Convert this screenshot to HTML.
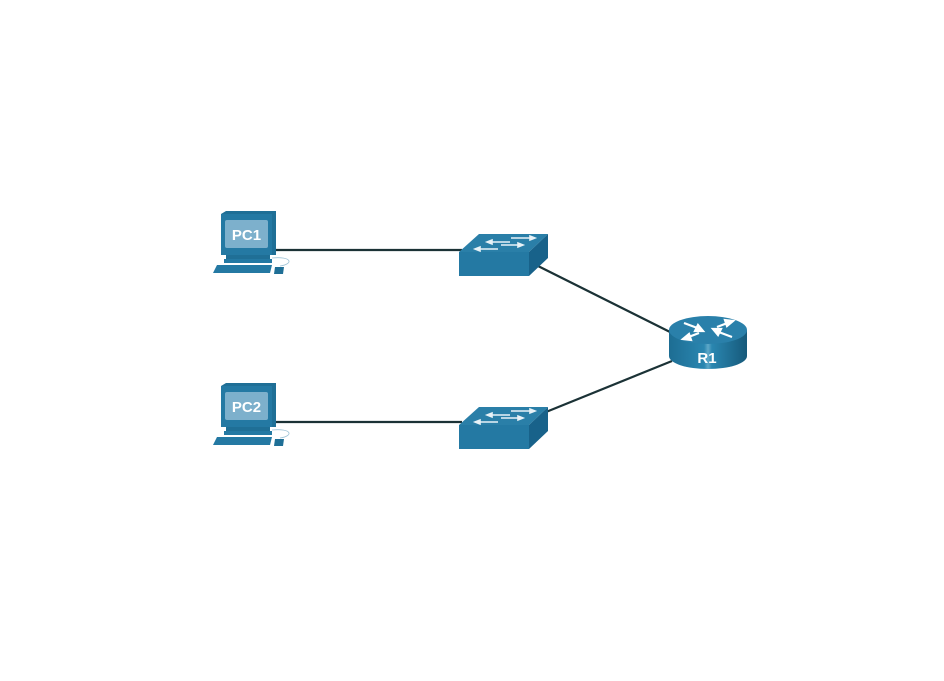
<!DOCTYPE html>
<html><head><meta charset="utf-8"><style>html,body{margin:0;padding:0;background:#fff}svg{display:block}</style></head>
<body>
<svg width="944" height="681" viewBox="0 0 944 681" xmlns="http://www.w3.org/2000/svg">
<defs>
<linearGradient id="rb" x1="0" x2="1" y1="0" y2="0">
<stop offset="0" stop-color="#1d6d93"/><stop offset="0.45" stop-color="#2a86b0"/><stop offset="0.5" stop-color="#5fa8c8"/><stop offset="0.55" stop-color="#2a86b0"/><stop offset="1" stop-color="#16597a"/>
</linearGradient>
<g id="pc">
<polygon points="221,214 226,211 276,211 276,255 221,255" fill="#1f6f96"/>
<rect x="221" y="214" width="51" height="41" fill="#2479a3"/>
<rect x="225" y="220" width="43" height="28" rx="2" fill="#7db0cc"/>
<text x="246.5" y="240" text-anchor="middle" font-family="Liberation Sans, sans-serif" font-weight="bold" font-size="15" fill="#fff">PCX</text>
<rect x="226" y="255" width="44" height="4" fill="#1f6f96"/>
<rect x="224" y="259" width="48" height="4" fill="#2479a3"/>
<polygon points="217,265 272,265 270,273 213,273" fill="#2479a3"/>
<path d="M272,258 C292,256 294,264 280,266" stroke="#9ec3d6" stroke-width="0.8" fill="none"/>
<polygon points="275,267 284,267 283,274 274,274" fill="#1f6f96"/>
</g>
<g id="sw">
<polygon points="459,252 479,234 548,234 529,252" fill="#2a7fa8"/>
<rect x="459" y="252" width="70" height="24" fill="#2479a3"/>
<polygon points="529,252 548,234 548,258 529,276" fill="#18628a"/>
<g stroke="#e8f2f7" stroke-width="1.6" fill="#e8f2f7">
<line x1="511" y1="238" x2="532" y2="238"/><polygon points="535,238 530,236 530,240"/>
<line x1="492" y1="242" x2="510" y2="242"/><polygon points="487,242 492,240 492,244"/>
<line x1="501" y1="245" x2="520" y2="245"/><polygon points="523,245 518,243 518,247"/>
<line x1="480" y1="249" x2="498" y2="249"/><polygon points="475,249 480,247 480,251"/>
</g>
</g>
</defs>
<g stroke="#1b3236" stroke-width="2.2">
<line x1="276" y1="250" x2="462" y2="250"/>
<line x1="276" y1="422" x2="462" y2="422"/>
<line x1="538" y1="266" x2="672" y2="333"/>
<line x1="546" y1="412" x2="672" y2="361"/>
</g>
<g>
<polygon points="221,214 226,211 276,211 276,255 221,255" fill="#1f6f96"/>
<rect x="221" y="214" width="51" height="41" fill="#2479a3"/>
<rect x="225" y="220" width="43" height="28" rx="2" fill="#7db0cc"/>
<text x="246.5" y="240" text-anchor="middle" font-family="Liberation Sans, sans-serif" font-weight="bold" font-size="15" fill="#fff">PC1</text>
<rect x="226" y="255" width="44" height="4" fill="#1f6f96"/>
<rect x="224" y="259" width="48" height="4" fill="#2479a3"/>
<polygon points="217,265 272,265 270,273 213,273" fill="#2479a3"/>
<path d="M272,258 C292,256 294,264 280,266" stroke="#9ec3d6" stroke-width="0.8" fill="none"/>
<polygon points="275,267 284,267 283,274 274,274" fill="#1f6f96"/>
</g>
<g transform="translate(0,172)">
<polygon points="221,214 226,211 276,211 276,255 221,255" fill="#1f6f96"/>
<rect x="221" y="214" width="51" height="41" fill="#2479a3"/>
<rect x="225" y="220" width="43" height="28" rx="2" fill="#7db0cc"/>
<text x="246.5" y="240" text-anchor="middle" font-family="Liberation Sans, sans-serif" font-weight="bold" font-size="15" fill="#fff">PC2</text>
<rect x="226" y="255" width="44" height="4" fill="#1f6f96"/>
<rect x="224" y="259" width="48" height="4" fill="#2479a3"/>
<polygon points="217,265 272,265 270,273 213,273" fill="#2479a3"/>
<path d="M272,258 C292,256 294,264 280,266" stroke="#9ec3d6" stroke-width="0.8" fill="none"/>
<polygon points="275,267 284,267 283,274 274,274" fill="#1f6f96"/>
</g>
<use href="#sw"/>
<use href="#sw" transform="translate(0,173)"/>
<g>
<path d="M669,330 L669,356 A39,13 0 0 0 747,356 L747,330 Z" fill="url(#rb)"/>
<ellipse cx="708" cy="330" rx="39" ry="14" fill="#2a80aa"/>
<g stroke="#fff" stroke-width="2.2" fill="#fff">
<line x1="684" y1="323" x2="700" y2="329"/><polygon points="703,331 695,331 698,325"/>
<line x1="732" y1="337" x2="716" y2="331"/><polygon points="713,329 721,329 718,335"/>
<line x1="730" y1="322" x2="717" y2="327"/><polygon points="733,321 725,320 727,326"/>
<line x1="686" y1="338" x2="699" y2="333"/><polygon points="683,339 691,340 689,334"/>
</g>
<text x="707" y="363" text-anchor="middle" font-family="Liberation Sans, sans-serif" font-weight="bold" font-size="15" fill="#fff">R1</text>
</g>
</svg>
</body></html>
